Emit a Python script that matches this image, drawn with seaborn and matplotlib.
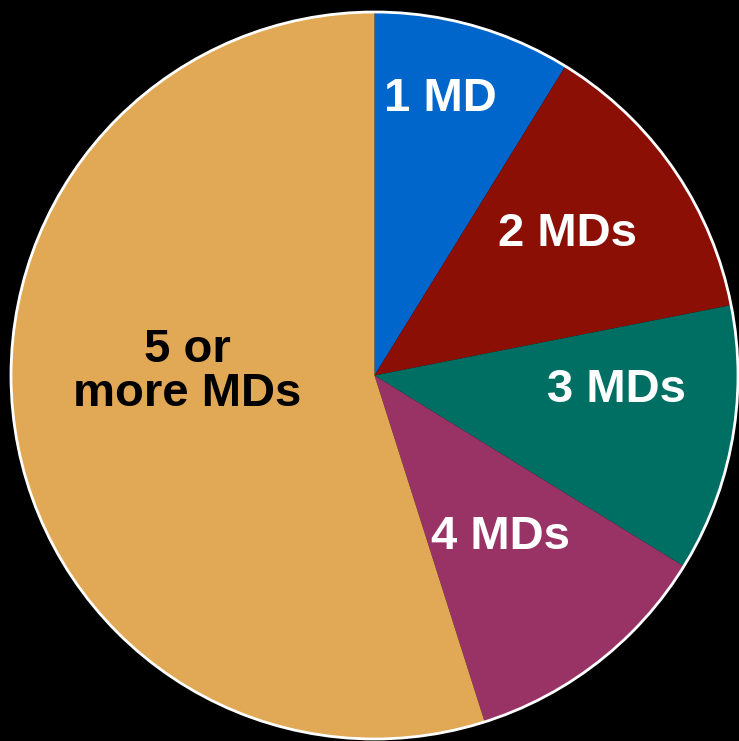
import matplotlib
matplotlib.use("Agg")
import matplotlib.pyplot as plt
import seaborn as sns
from matplotlib.patches import Circle

sns.set_theme(style="white")
plt.rcParams["font.family"] = ["Liberation Sans", "DejaVu Sans"]

# Share of practices by number of physicians (MDs)
categories = ["1 MD", "2 MDs", "3 MDs", "4 MDs", "5 or\nmore MDs"]
shares = [8.8, 13.1, 11.9, 11.3, 54.9]
colors = ["#0066CC", "#8B0F04", "#006F63", "#993366", "#E1A855"]
label_colors = ["white", "white", "white", "white", "black"]
label_pos = [(0.18, 0.762), (0.53, 0.39), (0.667, -0.04), (0.347, -0.445), (-0.515, 0.01)]

fig = plt.figure(figsize=(7.39, 7.41), dpi=100, facecolor="black")
ax = fig.add_axes([0, 0, 1, 1])
ax.set_facecolor("black")

wedges, _ = ax.pie(
    shares,
    colors=colors,
    startangle=90,
    counterclock=False,
    radius=1.0,
    wedgeprops=dict(linewidth=0, edgecolor="none"),
)

ax.add_patch(Circle((0, 0), 1.0, fill=False, edgecolor="white", linewidth=2.0, zorder=5))

for name, (x, y), c in zip(categories, label_pos, label_colors):
    ax.text(x, y, name, ha="center", va="center", color=c,
            fontsize=34, fontweight="bold", linespacing=1.02, zorder=6)

# pixel layout: centre (374.5, 375.5), radius 363.5 px
r_px = 363.5
ax.set_xlim(-374.5 / r_px, (739 - 374.5) / r_px)
ax.set_ylim(-(741 - 375.5) / r_px, 375.5 / r_px)
ax.set_aspect("equal")
ax.axis("off")

fig.savefig("out.png", dpi=100, facecolor="black")
